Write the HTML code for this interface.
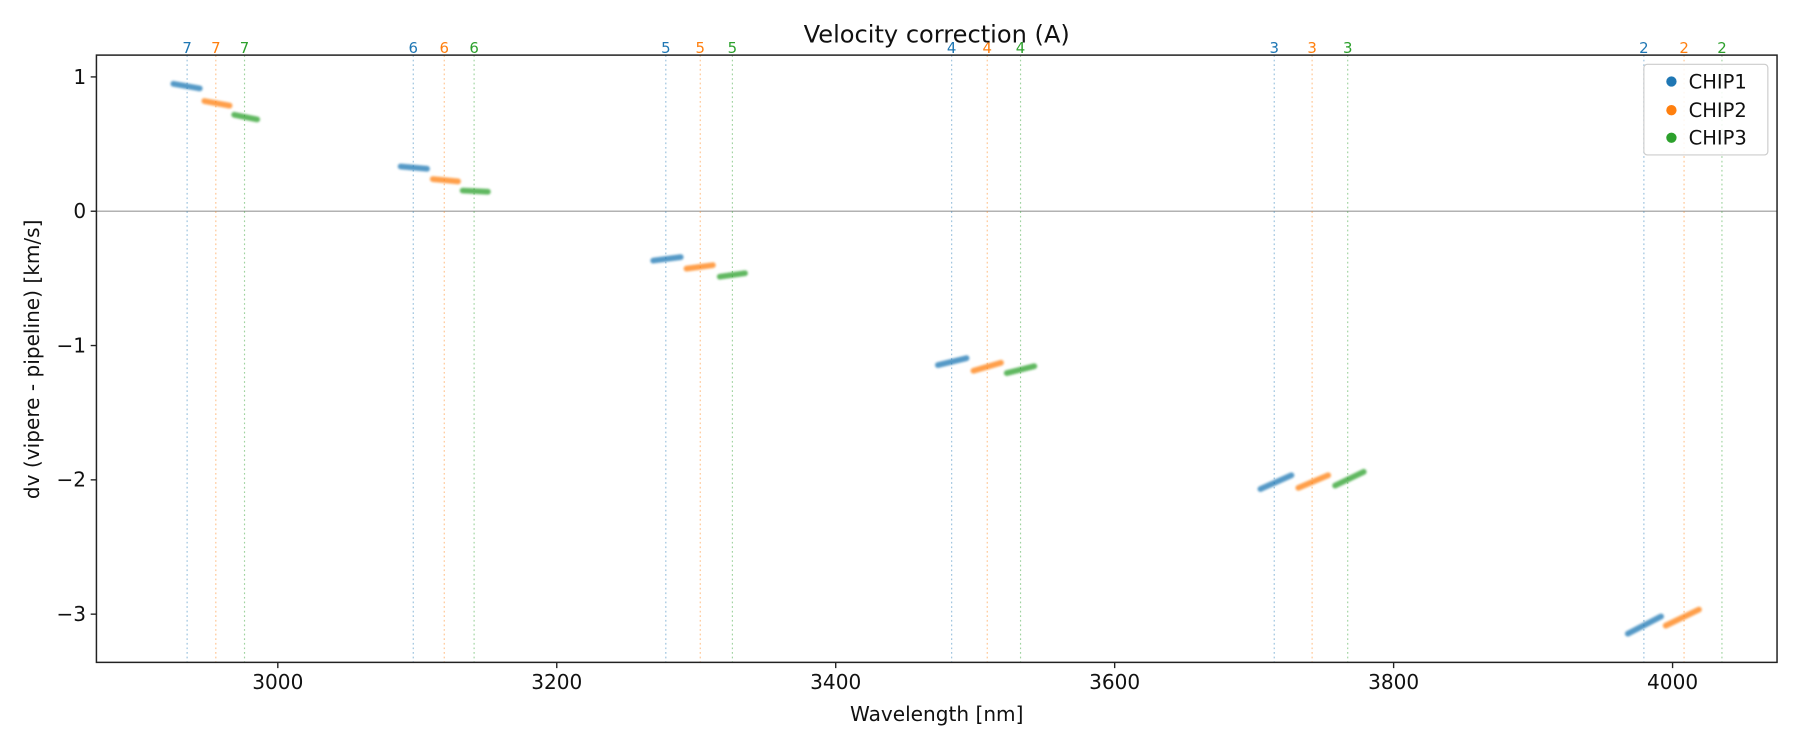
<!DOCTYPE html>
<html><head><meta charset="utf-8"><style>
html,body{margin:0;padding:0;background:#fff;}
svg{display:block;font-family:"DejaVu Sans","Liberation Sans",sans-serif;}
</style></head><body>
<svg width="1800" height="750" viewBox="0 0 1568 653.33" xmlns="http://www.w3.org/2000/svg">
<defs><filter id="b" x="-10%" y="-50%" width="120%" height="200%"><feGaussianBlur stdDeviation="0.9"/></filter></defs>
<rect width="1568" height="653.33" fill="#fff"/>
<line x1="84" y1="184" x2="1548" y2="184" stroke="#999" stroke-width="1"/>
<g stroke-width="1" stroke-dasharray="1.5,2.5" opacity="0.45">
<g stroke="#1f77b4"><line x1="163" y1="48" x2="163" y2="577"/><line x1="360" y1="48" x2="360" y2="577"/><line x1="580" y1="48" x2="580" y2="577"/><line x1="829" y1="48" x2="829" y2="577"/><line x1="1110" y1="48" x2="1110" y2="577"/><line x1="1432" y1="48" x2="1432" y2="577"/></g>
<g stroke="#ff7f0e"><line x1="188" y1="48" x2="188" y2="577"/><line x1="387" y1="48" x2="387" y2="577"/><line x1="610" y1="48" x2="610" y2="577"/><line x1="860" y1="48" x2="860" y2="577"/><line x1="1143" y1="48" x2="1143" y2="577"/><line x1="1467" y1="48" x2="1467" y2="577"/></g>
<g stroke="#2ca02c"><line x1="213" y1="48" x2="213" y2="577"/><line x1="413" y1="48" x2="413" y2="577"/><line x1="638" y1="48" x2="638" y2="577"/><line x1="889" y1="48" x2="889" y2="577"/><line x1="1174" y1="48" x2="1174" y2="577"/><line x1="1500" y1="48" x2="1500" y2="577"/></g>
</g>
<g stroke-width="5" stroke-linecap="round" opacity="0.75" filter="url(#b)">
<g stroke="#1f77b4"><line x1="151" y1="73" x2="174" y2="77"/><line x1="349" y1="145" x2="372" y2="147"/><line x1="569" y1="227" x2="593" y2="224"/><line x1="817" y1="318" x2="842" y2="312"/><line x1="1098" y1="426" x2="1125" y2="414"/><line x1="1418" y1="552" x2="1447" y2="537"/></g>
<g stroke="#ff7f0e"><line x1="178" y1="88" x2="200" y2="92"/><line x1="377" y1="156" x2="399" y2="158"/><line x1="598" y1="234" x2="621" y2="231"/><line x1="848" y1="323" x2="872" y2="316"/><line x1="1131" y1="425" x2="1157" y2="414"/><line x1="1451" y1="545" x2="1480" y2="531"/></g>
<g stroke="#2ca02c"><line x1="204" y1="100" x2="224" y2="104"/><line x1="403" y1="166" x2="425" y2="167"/><line x1="627" y1="241" x2="649" y2="238"/><line x1="877" y1="325" x2="901" y2="319"/><line x1="1163" y1="423" x2="1188" y2="411"/></g>
</g>
<g font-size="13" text-anchor="middle">
<g fill="#1f77b4"><text x="163" y="46">7</text><text x="360" y="46">6</text><text x="580" y="46">5</text><text x="829" y="46">4</text><text x="1110" y="46">3</text><text x="1432" y="46">2</text></g>
<g fill="#ff7f0e"><text x="188" y="46">7</text><text x="387" y="46">6</text><text x="610" y="46">5</text><text x="860" y="46">4</text><text x="1143" y="46">3</text><text x="1467" y="46">2</text></g>
<g fill="#2ca02c"><text x="213" y="46">7</text><text x="413" y="46">6</text><text x="638" y="46">5</text><text x="889" y="46">4</text><text x="1174" y="46">3</text><text x="1500" y="46">2</text></g>
</g>
<rect x="84" y="48" width="1464" height="529" fill="none" stroke="#222" stroke-width="1.3"/>
<g stroke="#222" stroke-width="1.2"><line x1="79" y1="67" x2="84" y2="67"/><line x1="79" y1="184" x2="84" y2="184"/><line x1="79" y1="301" x2="84" y2="301"/><line x1="79" y1="418" x2="84" y2="418"/><line x1="79" y1="535" x2="84" y2="535"/></g>
<g font-size="17.5" text-anchor="end" fill="#111"><text x="75" y="73">1</text><text x="75" y="190">0</text><text x="75" y="307">−1</text><text x="75" y="424">−2</text><text x="75" y="541">−3</text></g>
<g stroke="#222" stroke-width="1.2"><line x1="242" y1="577" x2="242" y2="582"/><line x1="485" y1="577" x2="485" y2="582"/><line x1="728" y1="577" x2="728" y2="582"/><line x1="971" y1="577" x2="971" y2="582"/><line x1="1214" y1="577" x2="1214" y2="582"/><line x1="1457" y1="577" x2="1457" y2="582"/></g>
<g font-size="17.5" text-anchor="middle" fill="#111"><text x="242" y="600">3000</text><text x="485" y="600">3200</text><text x="728" y="600">3400</text><text x="971" y="600">3600</text><text x="1214" y="600">3800</text><text x="1457" y="600">4000</text></g>
<text x="816" y="628" font-size="17.5" text-anchor="middle" fill="#111">Wavelength [nm]</text>
<text transform="translate(34,313) rotate(-90)" font-size="17.5" text-anchor="middle" fill="#111">dv (vipere - pipeline) [km/s]</text>
<text x="816" y="37" font-size="21" text-anchor="middle" fill="#111">Velocity correction (A)</text>
<rect x="1432" y="56" width="108" height="79" rx="3" fill="#fff" fill-opacity="0.85" stroke="#ccc" stroke-width="1"/>
<circle cx="1456" cy="71" r="4.5" fill="#1f77b4"/><circle cx="1456" cy="96" r="4.5" fill="#ff7f0e"/><circle cx="1456" cy="120" r="4.5" fill="#2ca02c"/>
<g font-size="17" fill="#111"><text x="1471" y="77">CHIP1</text><text x="1471" y="102">CHIP2</text><text x="1471" y="126">CHIP3</text></g>
</svg>
</body></html>
